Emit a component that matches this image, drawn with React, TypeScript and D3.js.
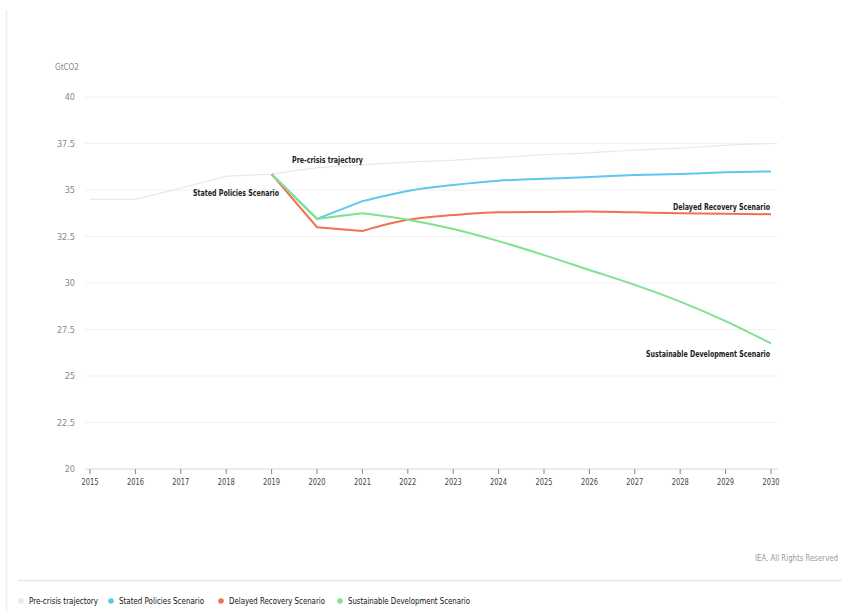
import React from "react";
import * as d3 from "d3";

const years = [2015, 2016, 2017, 2018, 2019, 2020, 2021, 2022, 2023, 2024, 2025, 2026, 2027, 2028, 2029, 2030];
const preCrisis = [34.5, 34.5, 35.1, 35.75, 35.85, 36.2, 36.35, 36.5, 36.6, 36.75, 36.9, 37.0, 37.15, 37.25, 37.4, 37.5];
const statedPolicies = [null, null, null, null, 35.85, 33.45, 34.4, 34.95, 35.27, 35.5, 35.6, 35.7, 35.8, 35.86, 35.95, 36.0];
const delayedRecovery = [null, null, null, null, 35.85, 33.0, 32.8, 33.4, 33.65, 33.8, 33.82, 33.85, 33.8, 33.75, 33.72, 33.7];
const sustainable = [null, null, null, null, 35.85, 33.45, 33.75, 33.4, 32.9, 32.25, 31.5, 30.7, 29.9, 29.0, 27.95, 26.75];
const yTicks = [20, 22.5, 25, 27.5, 30, 32.5, 35, 37.5, 40];
const seriesNames = ["Pre-crisis trajectory", "Stated Policies Scenario", "Delayed Recovery Scenario", "Sustainable Development Scenario"];
const seriesColors = ["#e8e8e8", "#5cc8f0", "#f2714f", "#80e28e"];

const FONT = "'DejaVu Sans Condensed', 'Liberation Sans', sans-serif";

export default function App() {
  const W = 842, H = 612;
  const x = d3.scaleLinear().domain([2015, 2030]).range([90, 771]);
  const y = d3.scaleLinear().domain([20, 40]).range([469, 97]);
  const allSeries = [preCrisis, statedPolicies, delayedRecovery, sustainable];
  const line = d3
    .line<[number, number | null]>()
    .defined((d) => d[1] != null)
    .x((d) => x(d[0]))
    .y((d) => y(d[1] as number))
    .curve(d3.curveMonotoneX);
  const straight = d3
    .line<[number, number | null]>()
    .defined((d) => d[1] != null)
    .x((d) => x(d[0]))
    .y((d) => y(d[1] as number));

  const legendX = [21, 111, 221, 340];
  const legendW = [69, 85, 96, 122];

  const seriesPath = (s: (number | null)[]) => {
    const pts = years.map((yr, j) => [yr, s[j]]) as [number, number | null][];
    const early = pts.filter((p) => p[0] <= 2021);
    const late = pts.filter((p) => p[0] >= 2021);
    return (straight(early) || "") + (line(late) || "");
  };

  return (
    <svg width={W} height={H} style={{ position: "absolute", left: 0, top: 0, background: "#fff" }} fontFamily={FONT}>
      <line x1={6.5} x2={6.5} y1={10} y2={H} stroke="#eeeeee" strokeWidth={1.5} />
      <text x={55} y={70} fontSize={8.5} fill="#888" textLength={24} lengthAdjust="spacingAndGlyphs">GtCO2</text>
      {yTicks.map((t) => (
        <g key={t}>
          {t !== 20 && <line x1={85} x2={778} y1={y(t)} y2={y(t)} stroke="#f0f0f0" strokeWidth={1} />}
          <text x={75} y={y(t) + 3} textAnchor="end" fontSize={9} fill="#888">{t}</text>
        </g>
      ))}
      <line x1={85} x2={778} y1={y(20)} y2={y(20)} stroke="#d6d6d6" strokeWidth={1} />
      {years.map((yr) => (
        <g key={yr}>
          <line x1={x(yr)} x2={x(yr)} y1={y(20)} y2={y(20) + 5} stroke="#888" strokeWidth={1} />
          <text x={x(yr) - 8.5} y={y(20) + 16} fontSize={9} fill="#444" textLength={17} lengthAdjust="spacingAndGlyphs">{yr}</text>
        </g>
      ))}
      {allSeries.map((s, i) => (
        <path
          key={i}
          d={seriesPath(s)}
          fill="none"
          stroke={seriesColors[i]}
          strokeWidth={i === 0 ? 1.2 : 2}
        />
      ))}
      <text x={292} y={163} fontSize={9.5} fontWeight="bold" fill="#222" textLength={71} lengthAdjust="spacingAndGlyphs">Pre-crisis trajectory</text>
      <text x={193} y={196} fontSize={9.5} fontWeight="bold" fill="#222" textLength={86} lengthAdjust="spacingAndGlyphs">Stated Policies Scenario</text>
      <text x={673} y={210} fontSize={9.5} fontWeight="bold" fill="#222" textLength={97} lengthAdjust="spacingAndGlyphs">Delayed Recovery Scenario</text>
      <text x={646} y={357} fontSize={9.5} fontWeight="bold" fill="#222" textLength={124} lengthAdjust="spacingAndGlyphs">Sustainable Development Scenario</text>
      <text x={838} y={561} textAnchor="end" fontSize={8} fill="#999" textLength={83} lengthAdjust="spacingAndGlyphs">IEA. All Rights Reserved</text>
      <line x1={18} x2={842} y1={580.5} y2={580.5} stroke="#e6e6e6" strokeWidth={1.5} />
      {seriesNames.map((n, i) => (
        <g key={n}>
          <circle cx={legendX[i]} cy={601} r={2.8} fill={seriesColors[i]} />
          <text x={legendX[i] + 8} y={604} fontSize={9} fill="#111" textLength={legendW[i]} lengthAdjust="spacingAndGlyphs">{n}</text>
        </g>
      ))}
    </svg>
  );
}
